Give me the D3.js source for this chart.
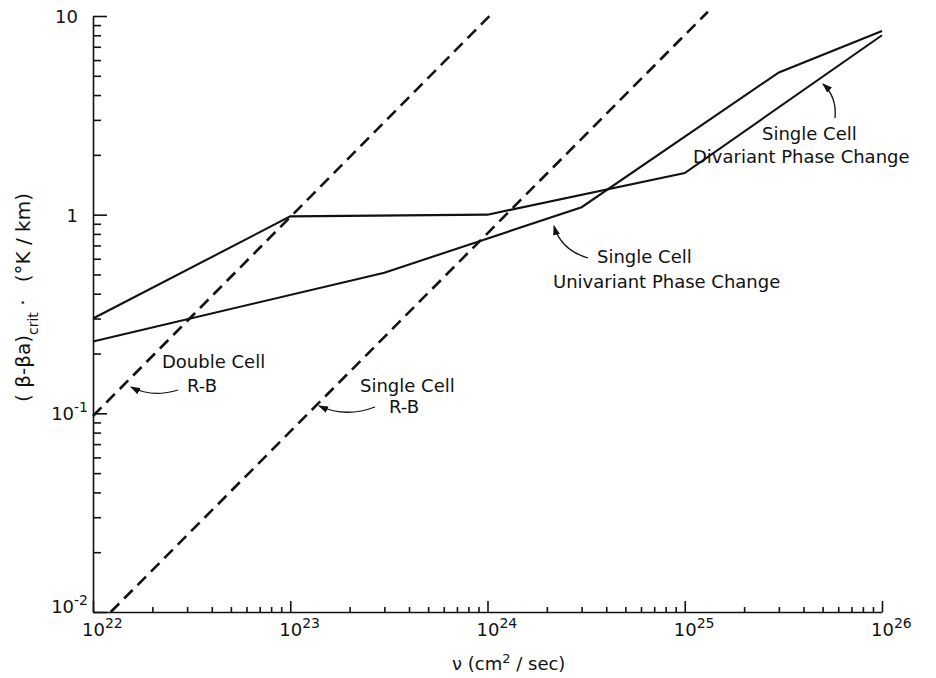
<!DOCTYPE html>
<html>
<head>
<meta charset="utf-8">
<script src="https://cdn.jsdelivr.net/npm/d3@7"></script>
<style>
  body { margin: 0; background: #fff; }
  svg { display: block; font-family: "DejaVu Sans", sans-serif; }
  .curve { fill: none; stroke: #111; stroke-width: 2.1; }
  .rb { fill: none; stroke: #111; stroke-width: 2.6; stroke-dasharray: 12 7; }
  .note { font-size: 18px; fill: #111; }
  .arrow { fill: none; stroke: #111; stroke-width: 1.3; }
</style>
</head>
<body>
<svg width="936" height="678"></svg>
<script>
// axis ticks
var nuTicks = [1e22, 1e23, 1e24, 1e25, 1e26];
var nuExp = ['22', '23', '24', '25', '26'];
var betaTicks = [0.01, 0.1, 1, 10];
var betaBase = ['10', '10', '1', '10'];
var betaExp = ['-2', '-1', '', ''];

// solid curves (phase change)
var divariantNu = [1e22, 1e23, 1e24, 1e25, 1e26];
var divariantBeta = [0.30, 0.98, 1.00, 1.62, 8.0];
var univariantNu = [1e22, 3e23, 3e24, 3e25, 1e26];
var univariantBeta = [0.23, 0.51, 1.09, 5.2, 8.4];

// dashed curves (Rayleigh-Benard)
var doubleRBNu = [1e22, 1.06e24];
var doubleRBBeta = [0.097, 10.35];
var singleRBNu = [1.23e22, 1.31e25];
var singleRBBeta = [0.01, 10.5];

var svg = d3.select('svg');

var x = d3.scaleLog().domain([1e22, 1e26]).range([93, 882]);
var y = d3.scaleLog().domain([0.01, 10]).range([612, 16]);

function pairs(xs, ys) {
  return xs.map(function(d, i) { return [d, ys[i]]; });
}

var line = d3.line()
  .x(function(d) { return x(d[0]); })
  .y(function(d) { return y(d[1]); });

// minor ticks, every 2..9 in each decade
var nuMinor = [];
for (var e = 22; e < 26; e++) {
  for (var k = 2; k <= 9; k++) nuMinor.push(k * Math.pow(10, e));
}
var betaMinor = [];
for (var e2 = -2; e2 < 1; e2++) {
  for (var k2 = 2; k2 <= 9; k2++) betaMinor.push(k2 * Math.pow(10, e2));
}

// left axis: ticks point inwards
svg.append('g')
  .attr('transform', 'translate(93,0)')
  .call(d3.axisLeft(y).tickValues(betaMinor).tickSize(-8).tickFormat(''))
  .call(function(g) { g.select('.domain').remove(); });
svg.append('g')
  .attr('transform', 'translate(93,0)')
  .call(d3.axisLeft(y).tickValues(betaTicks).tickSize(-14).tickSizeOuter(0).tickFormat(''));

// bottom axis
svg.append('g')
  .attr('transform', 'translate(0,612)')
  .call(d3.axisBottom(x).tickValues(nuMinor).tickSize(-5).tickFormat(''))
  .call(function(g) { g.select('.domain').remove(); });
svg.append('g')
  .attr('transform', 'translate(0,612)')
  .call(d3.axisBottom(x).tickValues(nuTicks).tickSize(-11).tickSizeOuter(0).tickFormat(''));

svg.selectAll('.tick line, .domain').attr('stroke', '#111').attr('stroke-width', 1.6);

// tick labels with superscripts
var xl = svg.append('g').selectAll('text')
  .data(nuTicks)
  .enter()
    .append('text')
      .attr('x', function(d) { return x(d) - 11; })
      .attr('y', 636)
      .attr('font-size', 18)
      .attr('fill', '#111');
xl.append('tspan').text('10');
xl.append('tspan')
  .attr('font-size', 14)
  .attr('dy', -8)
  .text(function(d, i) { return nuExp[i]; });

var yl = svg.append('g').selectAll('text')
  .data(betaTicks)
  .enter()
    .append('text')
      .attr('x', function(d, i) { return betaExp[i] ? 88 : 78; })
      .attr('y', function(d, i) { return y(d) + (i === 0 ? 1 : 7); })
      .attr('text-anchor', 'end')
      .attr('font-size', 18)
      .attr('fill', '#111');
yl.append('tspan').text(function(d, i) { return betaBase[i]; });
yl.append('tspan')
  .attr('font-size', 14)
  .attr('dy', -8)
  .text(function(d, i) { return betaExp[i]; });

// curves
svg.append('path').attr('class', 'curve').attr('d', line(pairs(divariantNu, divariantBeta)));
svg.append('path').attr('class', 'curve').attr('d', line(pairs(univariantNu, univariantBeta)));
svg.append('path').attr('class', 'rb').attr('d', line(pairs(doubleRBNu, doubleRBBeta)));
svg.append('path').attr('class', 'rb').attr('d', line(pairs(singleRBNu, singleRBBeta)));

// axis titles
var xt = svg.append('text')
  .attr('x', 452)
  .attr('y', 670)
  .attr('font-size', 18)
  .attr('fill', '#111');
xt.append('tspan').text('\u03bd (cm');
xt.append('tspan').attr('font-size', 13).attr('dy', -7).text('2');
xt.append('tspan').attr('dy', 7).text(' / sec)');

var yt = svg.append('text')
  .attr('transform', 'translate(30,402) rotate(-90)')
  .attr('font-size', 20)
  .attr('fill', '#111');
yt.append('tspan').text('( \u03b2-\u03b2a)');
yt.append('tspan').attr('font-size', 14).attr('dy', 8).text('crit');
yt.append('tspan').attr('dy', -8).text(' \u00b7');

svg.append('text')
  .attr('transform', 'translate(30,193) rotate(-90)')
  .attr('text-anchor', 'end')
  .attr('font-size', 20)
  .attr('fill', '#111')
  .text('(\u00b0K / km)');

// annotations
svg.append('defs').append('marker')
  .attr('id', 'head')
  .attr('markerUnits', 'userSpaceOnUse')
  .attr('markerWidth', 10)
  .attr('markerHeight', 7)
  .attr('refX', 9)
  .attr('refY', 3.5)
  .attr('orient', 'auto')
  .append('path')
    .attr('d', 'M0,0 L10,3.5 L0,7 Z')
    .attr('fill', '#111');

var notes = [
  { lines: ['Double Cell', 'R-B'], xs: [162, 187], ys: [368, 392], arrow: 'M178,390 Q152,398 131,387' },
  { lines: ['Single Cell', 'R-B'], xs: [360, 389], ys: [392, 413], arrow: 'M375,407 Q346,418 319,406' },
  { lines: ['Single Cell', 'Univariant Phase Change'], xs: [597, 553], ys: [263, 288], arrow: 'M588,258 Q561,250 554,226' },
  { lines: ['Single Cell', 'Divariant Phase Change'], xs: [762, 693], ys: [140, 163], arrow: 'M835,118 Q837,97 823,84' }
];

notes.forEach(function(n) {
  n.lines.forEach(function(t, i) {
    svg.append('text')
      .attr('class', 'note')
      .attr('x', n.xs[i])
      .attr('y', n.ys[i])
      .text(t);
  });
  svg.append('path')
    .attr('class', 'arrow')
    .attr('d', n.arrow)
    .attr('marker-end', 'url(#head)');
});
</script>
</body>
</html>
